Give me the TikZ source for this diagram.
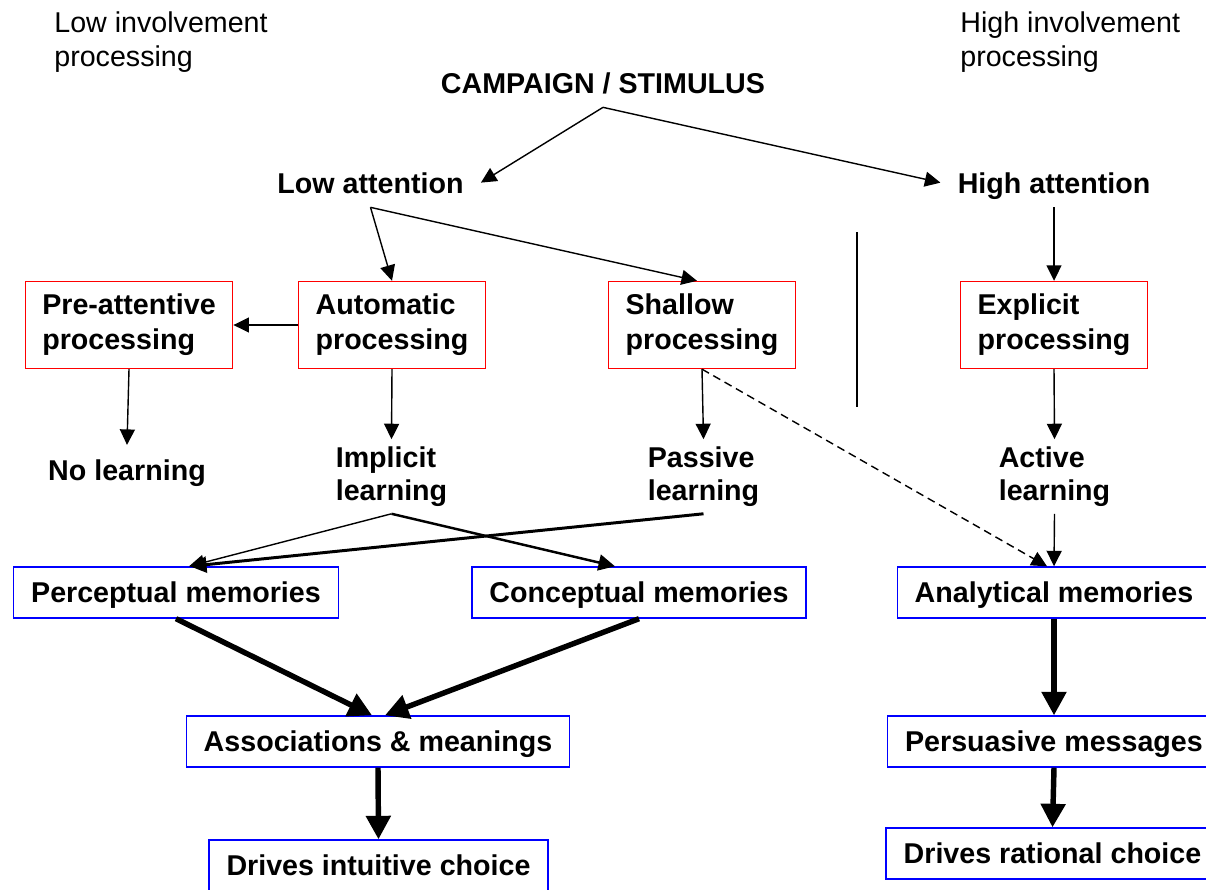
\documentclass[tikz,border=0pt]{standalone}
\usepackage{fontspec}
\setmainfont{Liberation Sans}
\usetikzlibrary{arrows.meta}

\begin{document}
\begin{tikzpicture}[
  x=0.02cm, y=-0.02cm,
  every node/.style={font=\fontsize{16.3}{19.3}\selectfont\bfseries},
  note/.style={font=\fontsize{16.3}{19.3}\selectfont, align=left, inner sep=0pt, anchor=north west},
  lbl/.style={inner xsep=0.34cm, inner ysep=0.28cm, text depth=0pt, anchor=base},
  lbl2/.style={align=left, inner xsep=0.34cm, inner ysep=0.14cm, font=\fontsize{16.3}{18.8}\selectfont\bfseries},
  redbox/.style={draw=red, line width=0.8pt, align=left, inner xsep=0.34cm, minimum height=1.74cm,
    font=\fontsize{16.3}{19.9}\selectfont\bfseries, execute at begin node={\rule{0pt}{0.56cm}}},
  bluebox/.style={draw=blue, line width=0.8pt, inner xsep=0.35cm, minimum height=1.02cm,
    text height=0.5cm, text depth=0.12cm},
  arr/.style={-{Triangle[length=0.31cm, width=0.3cm]}, line width=0.8pt},
  midarr/.style={-{Triangle[length=0.33cm, width=0.32cm]}, line width=1.4pt},
  bigarr/.style={-{Triangle[length=0.47cm, width=0.48cm]}, line width=3.1pt},
  dasharr/.style={arr, dash pattern=on 0.16cm off 0.1cm},
]
\useasboundingbox (0,0) rectangle (1206,889);

\node[note] (lowinv)  at (54,11)  {Low involvement\\processing};
\node[note] (highinv) at (960,11) {High involvement\\processing};

\node[lbl] (camp)    at (603,93)    {CAMPAIGN / STIMULUS};
\node[lbl] (lowatt)  at (370.5,193) {Low attention};
\node[lbl] (highatt) at (1054,193)  {High attention};

\node[redbox] (pre)  at (129,325)  {Pre-attentive\\processing};
\node[redbox] (auto) at (392,325)  {Automatic\\processing};
\node[redbox] (shal) at (702,325)  {Shallow\\processing};
\node[redbox] (expl) at (1054,325) {Explicit\\processing};

\node[lbl]  (nolearn) at (127,480)      {No learning};
\node[lbl2] (impl)    at (391.5,476.5)  {Implicit\\learning};
\node[lbl2] (pass)    at (703.5,476.5)  {Passive\\learning};
\node[lbl2] (act)     at (1054.5,476.5) {Active\\learning};

\node[bluebox] (perc)   at (176,592.5)   {Perceptual memories};
\node[bluebox] (conc)   at (639,592.5)   {Conceptual memories};
\node[bluebox] (anal)   at (1054,592.5)  {Analytical memories};
\node[bluebox] (assoc)  at (378,741.5)   {Associations \& meanings};
\node[bluebox] (intuit) at (378.5,865.5) {Drives intuitive choice};
\node[bluebox] (pers)   at (1054,741.5)  {Persuasive messages};
\node[bluebox] (rat)    at (1052.5,853.5) {Drives rational choice};

\draw[line width=0.8pt] (857,232) -- (857,407);

\draw[arr] (camp.south) -- (lowatt.east);
\draw[arr] (camp.south) -- (highatt.west);
\draw[arr] (lowatt.south) -- (auto.north);
\draw[arr] (lowatt.south) -- ([xshift=-0.1cm]shal.north);
\draw[arr] (highatt.south) -- (expl.north);
\draw[arr] (auto.west) -- (pre.east);
\draw[arr] (pre.south) -- (nolearn.north);
\draw[arr] (auto.south) -- (impl.north);
\draw[arr] (shal.south) -- (pass.north);
\draw[arr] (expl.south) -- (act.north);
\draw[arr] (act.south) -- (anal.north);
\draw[dasharr] (shal.south) -- ([xshift=-0.14cm]anal.north);
\draw[arr] (impl.south) -- ([xshift=0.26cm]perc.north);
\draw[midarr] (impl.south) -- ([xshift=-0.48cm]conc.north);
\draw[midarr, line width=1.7pt] (pass.south) -- ([xshift=0.28cm]perc.north);
\draw[bigarr] (perc.south) -- ([xshift=-0.12cm]assoc.north);
\draw[bigarr] (conc.south) -- ([xshift=0.14cm]assoc.north);
\draw[bigarr] (assoc.south) -- (intuit.north);
\draw[bigarr] (anal.south) -- (pers.north);
\draw[bigarr] (pers.south) -- (rat.north);
\end{tikzpicture}
\end{document}
